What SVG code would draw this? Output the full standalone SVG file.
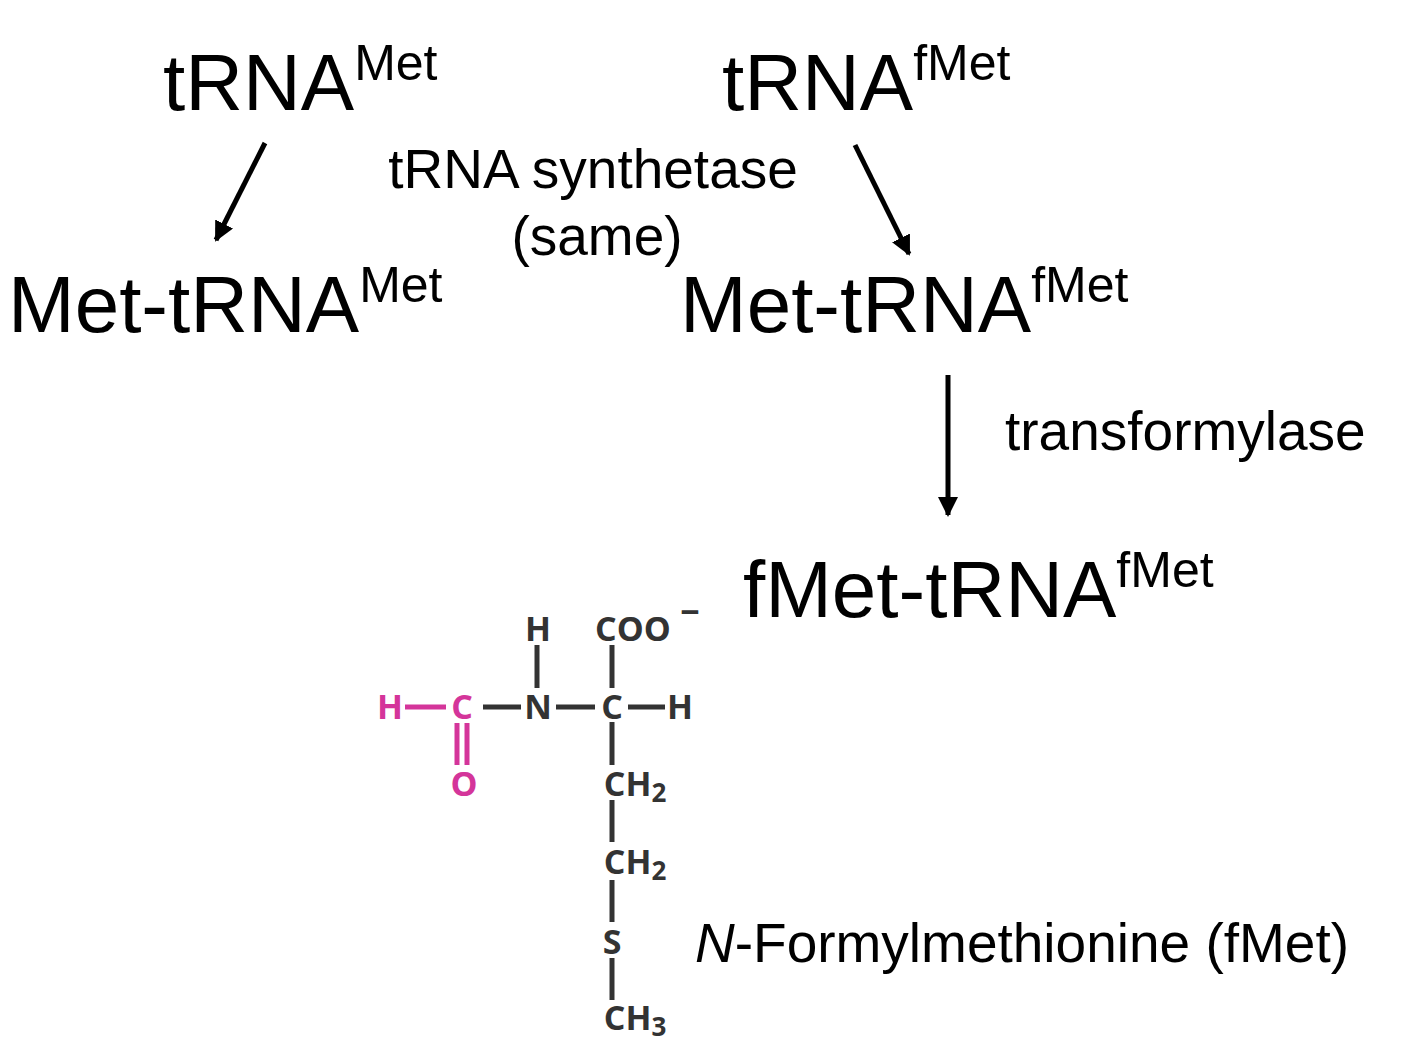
<svg xmlns="http://www.w3.org/2000/svg" width="1421" height="1055" viewBox="0 0 1421 1055">
<style>
.big{font-family:"Liberation Sans",Arial,sans-serif;font-size:80px;fill:#000}
.sup{font-size:50px}
.med{font-family:"Liberation Sans",Arial,sans-serif;font-size:55px;fill:#000}
.ch{font-family:"Open Sans",sans-serif;font-weight:bold;font-size:34px;fill:#333;text-anchor:middle}
.pk{fill:#d4359a}
.b{stroke:#333;stroke-width:5}
.bp{stroke:#d4359a;stroke-width:5}
.arr{stroke:#000;stroke-width:5;fill:none;marker-end:url(#ah)}
</style>
<defs><marker id="ah" viewBox="0 0 10 10" refX="9" refY="5" markerWidth="4" markerHeight="4" orient="auto" markerUnits="strokeWidth"><path d="M0,0L10,5L0,10z" fill="#000"/></marker></defs>
<rect width="1421" height="1055" fill="#fff"/>
<g id="trnaMet"><text class="big" x="163" y="110">tRNA<tspan class="sup" dy="-30">Met</tspan></text></g>
<g id="trnafMet"><text class="big" x="722" y="110">tRNA<tspan class="sup" dy="-30">fMet</tspan></text></g>
<g id="metTrnaMet"><text class="big" x="8" y="332">Met-tRNA<tspan class="sup" dy="-30">Met</tspan></text></g>
<g id="metTrnafMet"><text class="big" x="680" y="332">Met-tRNA<tspan class="sup" dy="-30">fMet</tspan></text></g>
<g id="fmetTrnafMet"><text class="big" x="743" y="617">fMet-tRNA<tspan class="sup" dy="-30">fMet</tspan></text></g>
<g id="labels">
<text class="med" x="593" y="188" text-anchor="middle">tRNA synthetase</text>
<text class="med" x="597" y="255" text-anchor="middle">(same)</text>
<text class="med" x="1005" y="450">transformylase</text>
<text class="med" x="695" y="962"><tspan font-style="italic">N</tspan>-Formylmethionine (fMet)</text>
</g>
<g id="connectors">
<line class="arr" x1="265" y1="143" x2="216" y2="240"/>
<line class="arr" x1="855" y1="145" x2="909" y2="254"/>
<line class="arr" x1="948" y1="375" x2="948" y2="515"/>
</g>
<g id="structure">
<line class="bp" x1="405" y1="707" x2="446" y2="707"/>
<line class="bp" x1="457" y1="723" x2="457" y2="765"/>
<line class="bp" x1="467" y1="723" x2="467" y2="765"/>
<line class="b" x1="483" y1="707" x2="521" y2="707"/>
<line class="b" x1="556" y1="707" x2="595" y2="707"/>
<line class="b" x1="628" y1="707" x2="665" y2="707"/>
<line class="b" x1="537" y1="645" x2="537" y2="688"/>
<line class="b" x1="612" y1="645" x2="612" y2="688"/>
<line class="b" x1="612" y1="722" x2="612" y2="765"/>
<line class="b" x1="612" y1="800" x2="612" y2="842"/>
<line class="b" x1="612" y1="880" x2="612" y2="922"/>
<line class="b" x1="612" y1="958" x2="612" y2="1000"/>
<text class="ch pk" x="390" y="719">H</text>
<text class="ch pk" x="462" y="719">C</text>
<text class="ch pk" x="464" y="796">O</text>
<text class="ch" x="538" y="719">N</text>
<text class="ch" x="612" y="719">C</text>
<text class="ch" x="680" y="719">H</text>
<text class="ch" x="538" y="641">H</text>
<text class="ch" x="633" y="641">COO</text>
<text class="ch" x="690" y="624" font-size="30">−</text>
<text class="ch" x="635" y="796">CH<tspan font-size="26" dy="6">2</tspan></text>
<text class="ch" x="635" y="874">CH<tspan font-size="26" dy="6">2</tspan></text>
<text class="ch" x="612" y="954">S</text>
<text class="ch" x="635" y="1030">CH<tspan font-size="26" dy="6">3</tspan></text>
</g>
</svg>
